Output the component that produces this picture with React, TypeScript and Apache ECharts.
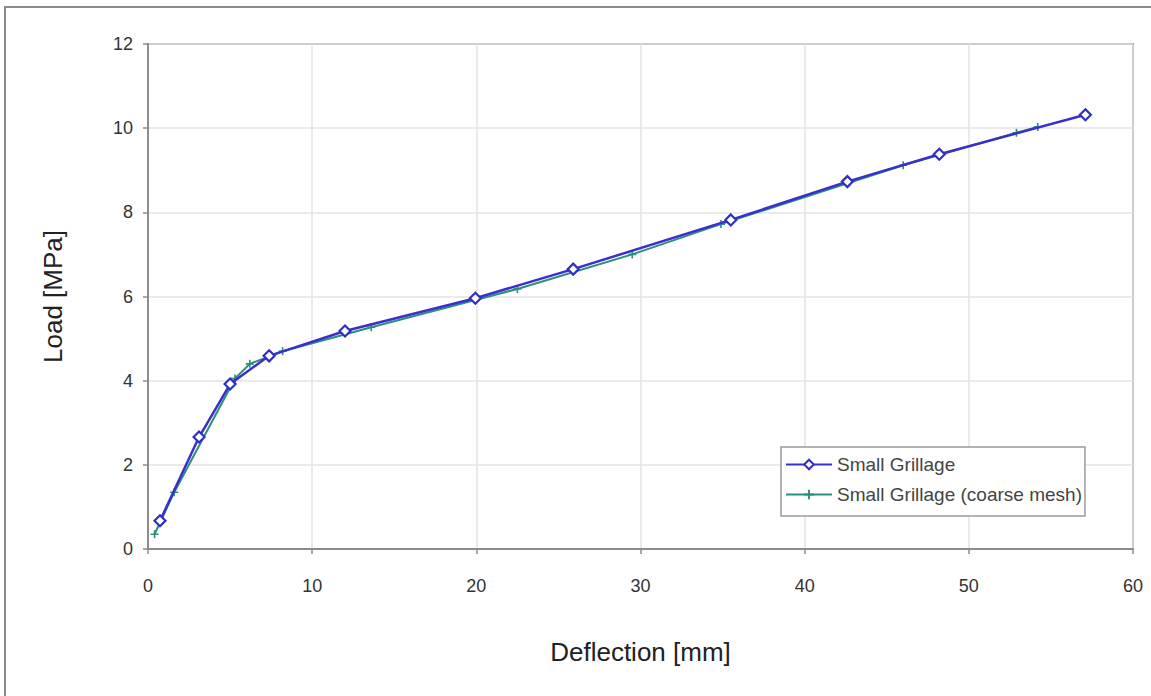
import React, { useEffect, useRef } from "react";
import * as echarts from "echarts";

const fineX = [0.73, 3.11, 5.0, 7.38, 12.0, 19.94, 25.9, 35.5, 42.6, 48.2, 57.1];
const fineY = [0.67, 2.66, 3.92, 4.59, 5.18, 5.96, 6.65, 7.82, 8.73, 9.38, 10.32];
const coarseX = [0.4, 1.6, 5.3, 6.2, 8.2, 13.6, 22.5, 29.5, 34.9, 46.0, 52.9, 54.2];
const coarseY = [0.35, 1.35, 4.05, 4.4, 4.7, 5.27, 6.18, 7.0, 7.72, 9.12, 9.89, 10.03];
const seriesNames = ["Small Grillage", "Small Grillage (coarse mesh)"];

const pair = (xs: number[], ys: number[]) => xs.map((x, i) => [x, ys[i]]);

export default function App() {
  const ref = useRef<HTMLDivElement>(null);
  useEffect(() => {
    if (!ref.current) return;
    const chart = echarts.init(ref.current, null, { renderer: "svg" });
    const font = "Liberation Sans, Arial, sans-serif";
    chart.setOption({
      animation: false,
      backgroundColor: "#ffffff",
      textStyle: { fontFamily: font },
      graphic: [
        {
          type: "rect",
          shape: { x: 5, y: 7, width: 1160, height: 700 },
          style: { fill: "none", stroke: "#8a8a8a", lineWidth: 2 },
          silent: true,
        },
      ],
      grid: { left: 148, top: 44, right: 18, bottom: 147, show: true, borderColor: "#8c8c8c", borderWidth: 2 },
      legend: {
        orient: "vertical",
        left: 781,
        top: 447,
        padding: [8, 3, 12, 4],
        itemGap: 11,
        itemWidth: 46,
        itemHeight: 12,
        borderColor: "#9a9a9a",
        borderWidth: 1.5,
        backgroundColor: "#ffffff",
        textStyle: { fontSize: 19, color: "#444", fontFamily: font },
        data: seriesNames,
      },
      xAxis: {
        type: "value",
        min: 0,
        max: 60,
        interval: 10,
        name: "Deflection [mm]",
        nameLocation: "middle",
        nameGap: 90,
        nameTextStyle: { fontSize: 26, color: "#222", fontFamily: font },
        axisLine: { show: true, lineStyle: { color: "#8c8c8c", width: 2 } },
        axisTick: { show: true, length: 5, lineStyle: { color: "#8c8c8c", width: 1.5 } },
        axisLabel: { fontSize: 18, color: "#333", margin: 28, fontFamily: font },
        splitLine: { show: true, lineStyle: { color: "#e3e3e3", width: 1.5 } },
      },
      yAxis: {
        type: "value",
        min: 0,
        max: 12,
        interval: 2,
        name: "Load [MPa]",
        nameLocation: "middle",
        nameGap: 82,
        nameRotate: 90,
        nameTextStyle: { fontSize: 26, color: "#222", fontFamily: font },
        axisLine: { show: true, lineStyle: { color: "#8c8c8c", width: 2 } },
        axisTick: { show: true, length: 5, lineStyle: { color: "#8c8c8c", width: 1.5 } },
        axisLabel: { fontSize: 18, color: "#333", margin: 15, fontFamily: font },
        splitLine: { show: true, lineStyle: { color: "#e3e3e3", width: 1.5 } },
      },
      series: [
        {
          name: seriesNames[1],
          type: "line",
          data: pair(coarseX, coarseY),
          symbol: "path://M4,0H6V4H10V6H6V10H4V6H0V4H4Z",
          symbolSize: 8,
          lineStyle: { color: "#2a8f7c", width: 2 },
          itemStyle: { color: "#2a8f7c" },
          z: 2,
        },
        {
          name: seriesNames[0],
          type: "line",
          data: pair(fineX, fineY),
          symbol: "diamond",
          symbolSize: 11,
          lineStyle: { color: "#3b2fcb", width: 2.5 },
          itemStyle: { color: "#ffffff", borderColor: "#2f2fc8", borderWidth: 2.2 },
          z: 3,
        },
      ],
    });
    return () => chart.dispose();
  }, []);
  return <div ref={ref} style={{ width: 1151, height: 696, position: "absolute", left: 0, top: 0 }} />;
}
